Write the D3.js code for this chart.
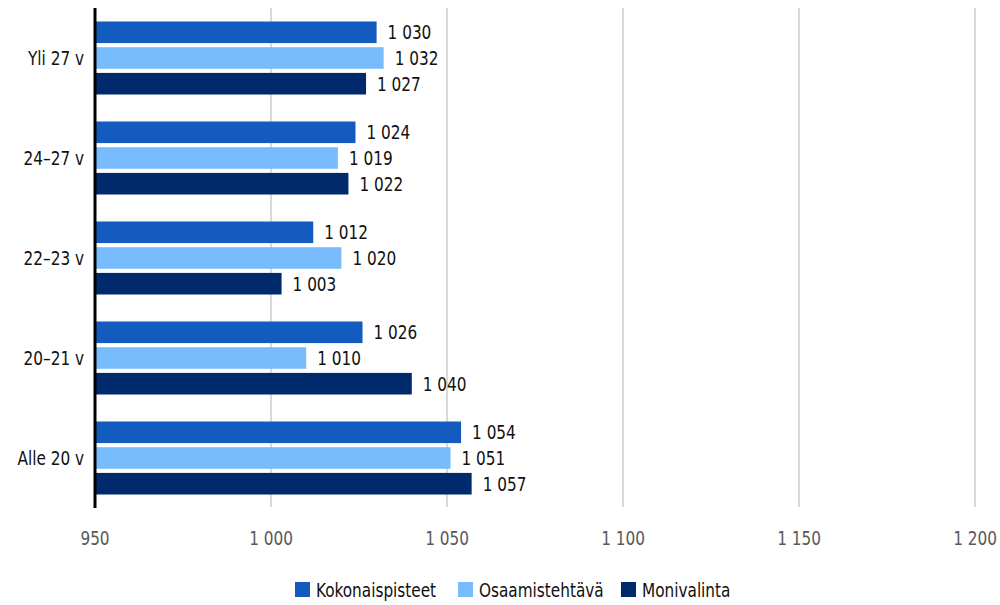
<!DOCTYPE html>
<html><head><meta charset="utf-8">
<script src="https://cdn.jsdelivr.net/npm/d3@7"></script>
<style>
body{margin:0;background:#fff;}
text{font-family:"Liberation Sans Narrow","DejaVu Sans Condensed","DejaVu Sans",sans-serif;}
</style></head>
<body><svg id="c" width="1000" height="605"></svg>
<script>
const categories = ["Yli 27 v","24–27 v","22–23 v","20–21 v","Alle 20 v"];
const seriesNames = ["Kokonaispisteet","Osaamistehtävä","Monivalinta"];
const kokonaispisteet = [1030,1024,1012,1026,1054];
const osaamistehtava = [1032,1019,1020,1010,1051];
const monivalinta = [1027,1022,1003,1040,1057];
const xTicks = [950,1000,1050,1100,1150,1200];
const colors = ["#135BBE","#79BCFD","#002A6C"];

const values = [kokonaispisteet, osaamistehtava, monivalinta];
const svg = d3.select("#c");
const loc = d3.formatLocale({decimal:",",thousands:"\u2009",grouping:[3],currency:["","€"]});
const fmt = v => loc.format(",")(v).replace("\u2009"," ");
const FS = 20, SX = 0.85;

// condensed text helper
function label(sel, px, py, txt, anchor, fill){
  sel.append("text")
    .attr("transform",`translate(${px},${py}) scale(${SX},1)`)
    .attr("dy","0.35em").attr("text-anchor",anchor||"start")
    .attr("font-size",FS).attr("fill",fill||"#111").text(txt);
}

const x = d3.scaleLinear().domain([950,1200]).range([95,975]);
const y = d3.scaleBand().domain(categories).range([8,508]).paddingInner(0.27).paddingOuter(0.135);
const ys = d3.scaleBand().domain(seriesNames).range([0,y.bandwidth()]).paddingInner(0.16);

// gridlines
svg.append("g").selectAll("line").data(xTicks.slice(1)).join("line")
  .attr("x1",d=>x(d)).attr("x2",d=>x(d)).attr("y1",8).attr("y2",507)
  .attr("stroke","#d9d9d9").attr("stroke-width",2);

// bars
const groups = svg.append("g").selectAll("g").data(categories).join("g")
  .attr("transform",c=>`translate(0,${y(c)})`);
groups.each(function(c,i){
  const g = d3.select(this);
  seriesNames.forEach((s,j)=>{
    const v = values[j][i];
    g.append("rect").attr("x",x(950)).attr("y",ys(s))
      .attr("width",x(v)-x(950)).attr("height",ys.bandwidth())
      .attr("fill",colors[j]);
    label(g, x(v)+11, ys(s)+ys.bandwidth()/2, fmt(v));
  });
});

// category labels
const cg = svg.append("g");
categories.forEach(c=>label(cg, 84, y(c)+y.bandwidth()/2, c, "end"));

// axis line
svg.append("line").attr("x1",x(950)).attr("x2",x(950)).attr("y1",8).attr("y2",508)
  .attr("stroke","#000").attr("stroke-width",3);

// x tick labels
const tg = svg.append("g");
xTicks.forEach(t=>label(tg, x(t), 538, fmt(t), "middle", "#595959"));

// legend
const legendX = [295,458,621];
const lg = svg.append("g");
seriesNames.forEach((s,i)=>{
  lg.append("rect").attr("x",legendX[i]).attr("y",582).attr("width",15).attr("height",15).attr("fill",colors[i]);
  label(lg, legendX[i]+21, 590, s);
});
</script></body></html>
